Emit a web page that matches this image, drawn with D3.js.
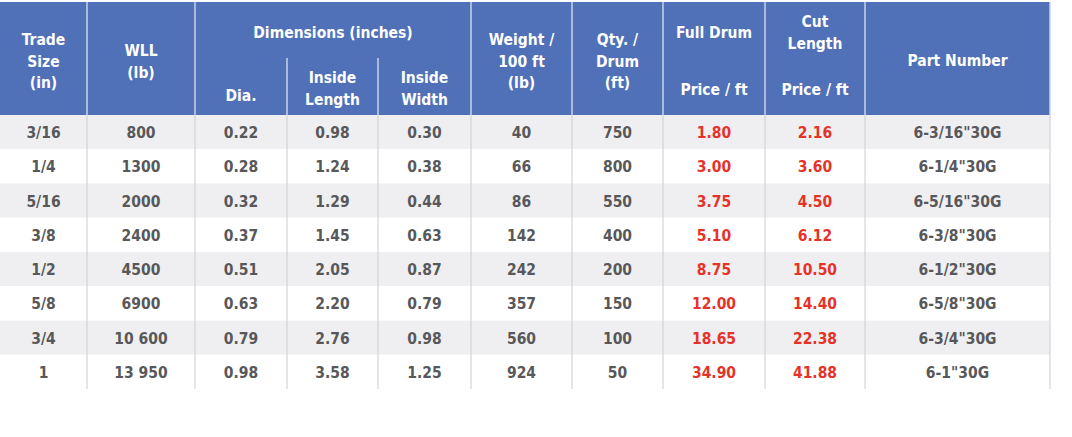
<!DOCTYPE html>
<html><head><meta charset="utf-8">
<script src="https://cdn.jsdelivr.net/npm/d3@7"></script>
<style>body{margin:0;background:#fff}svg{display:block;font-family:"DejaVu Sans Condensed","Roboto Condensed",Roboto,sans-serif}</style>
</head><body><svg id="c" width="1072" height="437"></svg>
<script>
const tradeSize=["3/16","1/4","5/16","3/8","1/2","5/8","3/4","1"];
const wll=["800","1300","2000","2400","4500","6900","10 600","13 950"];
const dia=["0.22","0.28","0.32","0.37","0.51","0.63","0.79","0.98"];
const insideLength=["0.98","1.24","1.29","1.45","2.05","2.20","2.76","3.58"];
const insideWidth=["0.30","0.38","0.44","0.63","0.87","0.79","0.98","1.25"];
const weight=["40","66","86","142","242","357","560","924"];
const qty=["750","800","550","400","200","150","100","50"];
const fullDrum=["1.80","3.00","3.75","5.10","8.75","12.00","18.65","34.90"];
const cutLength=["2.16","3.60","4.50","6.12","10.50","14.40","22.38","41.88"];
const partNumber=['6-3/16"30G','6-1/4"30G','6-5/16"30G','6-3/8"30G','6-1/2"30G','6-5/8"30G','6-3/4"30G','6-1"30G'];
const columns=[tradeSize,wll,dia,insideLength,insideWidth,weight,qty,fullDrum,cutLength,partNumber];
const redCols=[7,8];
const edges=[0,87,195,287,378,471,572,663,765,865,1050];
const svg=d3.select("#c");
const blue="#5070b8";
const hTop=2,hBot=115,tBot=389;
const y=d3.scaleBand().domain(d3.range(8)).range([hBot,tBot]);
// header bg
svg.append("rect").attr("x",0).attr("y",hTop).attr("width",1050).attr("height",hBot-hTop).attr("fill",blue);
// rows
svg.selectAll("rect.row").data(d3.range(8)).join("rect").attr("x",0).attr("y",d=>y(d)).attr("width",1050)
 .attr("height",y.bandwidth()).attr("fill",d=>d%2===0?"#efeff1":"#fff");
// vertical lines
edges.slice(1).forEach((e,i)=>{
  const sub=(i===2||i===3); // inside dimensions group
  svg.append("line").attr("x1",e).attr("x2",e).attr("y1",sub?58:hTop).attr("y2",hBot).attr("stroke","#c9d3ea").attr("stroke-width",1.5);
  svg.append("line").attr("x1",e).attr("x2",e).attr("y1",hBot).attr("y2",tBot).attr("stroke","#cccccc").attr("stroke-width",1);
});
// header texts
const headers=[
 {c:0,lines:["Trade","Size","(in)"],y:40},
 {c:1,lines:["WLL","(lb)"],y:51},
 {x:(edges[2]+edges[5])/2,lines:["Dimensions (inches)"],y:33},
 {c:2,lines:["Dia."],y:96},
 {c:3,lines:["Inside","Length"],y:78},
 {c:4,lines:["Inside","Width"],y:78},
 {c:5,lines:["Weight /","100 ft","(lb)"],y:40},
 {c:6,lines:["Qty. /","Drum","(ft)"],y:40},
 {c:7,lines:["Full Drum"],y:33},
 {c:7,lines:["Price / ft"],y:90},
 {c:8,lines:["Cut","Length"],y:22},
 {c:8,lines:["Price / ft"],y:90},
 {c:9,lines:["Part Number"],y:61}
];
headers.forEach(h=>{
  const x=h.x!==undefined?h.x:(edges[h.c]+edges[h.c+1])/2;
  const t=svg.append("text").attr("x",x).attr("y",h.y+5).attr("text-anchor","middle").attr("fill","#fff")
   .attr("font-size",15.5).attr("font-weight","bold");
  h.lines.forEach((l,i)=>t.append("tspan").attr("x",x).attr("dy",i?21.5:0).text(l));
});
// body
columns.forEach((col,ci)=>{
  const cx=(edges[ci]+edges[ci+1])/2;
  svg.selectAll(null).data(col).join("text").attr("x",cx).attr("y",(d,i)=>y(i)+y.bandwidth()/2+6)
   .attr("text-anchor","middle").attr("font-size",15.5).attr("font-weight","bold")
   .attr("fill",redCols.includes(ci)?"#e5332a":"#58585a").text(d=>d);
});
</script></body></html>
